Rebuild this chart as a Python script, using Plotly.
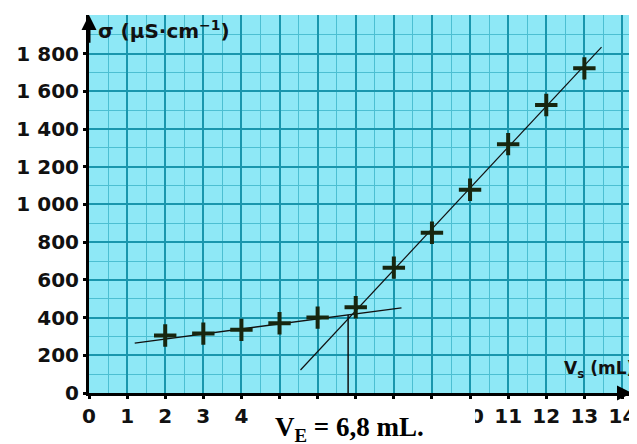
import plotly.graph_objects as go

# Data
volume_ml = [2, 3, 4, 5, 6, 7, 8, 9, 10, 11, 12, 13]
conductivity = [305, 315, 335, 370, 400, 455, 665, 850, 1078, 1320, 1528, 1722]

# fitted lines (endpoints)
fit1_x = [1.2, 8.2]
fit1_y = [265, 452]
fit2_x = [5.55, 13.45]
fit2_y = [122, 1835]
ve_x = [6.8, 6.8]
ve_y = [0, 415]

x_ticks = list(range(0, 15))
y_ticks = list(range(0, 2000, 200))
y_tick_text = ["0", "200", "400", "600", "800", "1 000", "1 200", "1 400", "1 600", "1 800"]

fig = go.Figure()
fig.add_trace(go.Scatter(x=fit1_x, y=fit1_y, mode="lines",
                         line=dict(color="#111111", width=1.3), showlegend=False))
fig.add_trace(go.Scatter(x=fit2_x, y=fit2_y, mode="lines",
                         line=dict(color="#111111", width=1.2), showlegend=False))
fig.add_trace(go.Scatter(x=ve_x, y=ve_y, mode="lines",
                         line=dict(color="#111111", width=1.5), showlegend=False))
fig.add_trace(go.Scatter(x=volume_ml, y=conductivity, mode="markers",
                         marker=dict(symbol="cross-thin", size=16,
                                     line=dict(color="#17260f", width=4)),
                         showlegend=False))

font_ax = dict(family="DejaVu Sans", size=20, color="#111111")

fig.update_layout(
    width=629, height=436,
    margin=dict(l=81, r=5, t=7, b=51, autoexpand=False),
    paper_bgcolor="white",
    plot_bgcolor="#8ee8f6",
    xaxis=dict(range=[0, 14.25], tickmode="array", tickvals=x_ticks,
               ticktext=[f"<b>{v}</b>" for v in x_ticks],
               showgrid=True, gridcolor="#1996ad", gridwidth=2,
               minor=dict(dtick=0.5, showgrid=True, gridcolor="#4cbfd2", gridwidth=1),
               showline=True, linecolor="black", linewidth=3,
               ticks="outside", ticklen=3, tickwidth=3, tickcolor="black",
               tickfont=font_ax, zeroline=False, fixedrange=True, automargin=False),
    yaxis=dict(range=[0, 2005], tickmode="array", tickvals=y_ticks,
               ticktext=[f"<b>{t}</b>" for t in y_tick_text],
               showgrid=True, gridcolor="#1996ad", gridwidth=2,
               minor=dict(dtick=100, showgrid=True, gridcolor="#4cbfd2", gridwidth=1),
               showline=True, linecolor="black", linewidth=3,
               ticks="outside", ticklen=3, tickwidth=3, tickcolor="black",
               tickfont=font_ax, zeroline=False, fixedrange=True, automargin=False),
    shapes=[
        dict(type="rect", xref="paper", yref="paper", x0=0.306, x1=0.711,
             y0=-0.2, y1=-0.032, fillcolor="white", line=dict(width=0), layer="above"),
    ],
    annotations=[
        # y axis arrow
        dict(x=0, y=2005, xref="x", yref="y", ax=0, ay=1850, axref="x", ayref="y",
             showarrow=True, arrowhead=2, arrowsize=1, arrowwidth=3, arrowcolor="black", text=""),
        # x axis arrow
        dict(x=14.25, y=0, xref="x", yref="y", ax=13.9, ay=0, axref="x", ayref="y",
             showarrow=True, arrowhead=2, arrowsize=1, arrowwidth=3, arrowcolor="black", text=""),
        dict(x=0.013, y=0.96, xref="paper", yref="paper", xanchor="left", yanchor="middle",
             text="<b>σ (µS·cm<sup>−1</sup>)</b>", showarrow=False,
             font=dict(family="DejaVu Sans", size=20, color="#111111")),
        dict(x=1.008, y=0.061, xref="paper", yref="paper", xanchor="right", yanchor="middle",
             text="<b>V<sub>s</sub> (mL)</b>", showarrow=False,
             font=dict(family="DejaVu Sans", size=17, color="#111111")),
        dict(x=0.48, y=-0.095, xref="paper", yref="paper", xanchor="center", yanchor="middle",
             text="<b>V<sub>E</sub> = 6,8 mL.</b>", showarrow=False,
             font=dict(family="Liberation Serif, Times New Roman", size=27, color="black")),
    ],
)

fig.write_html("out.html")
